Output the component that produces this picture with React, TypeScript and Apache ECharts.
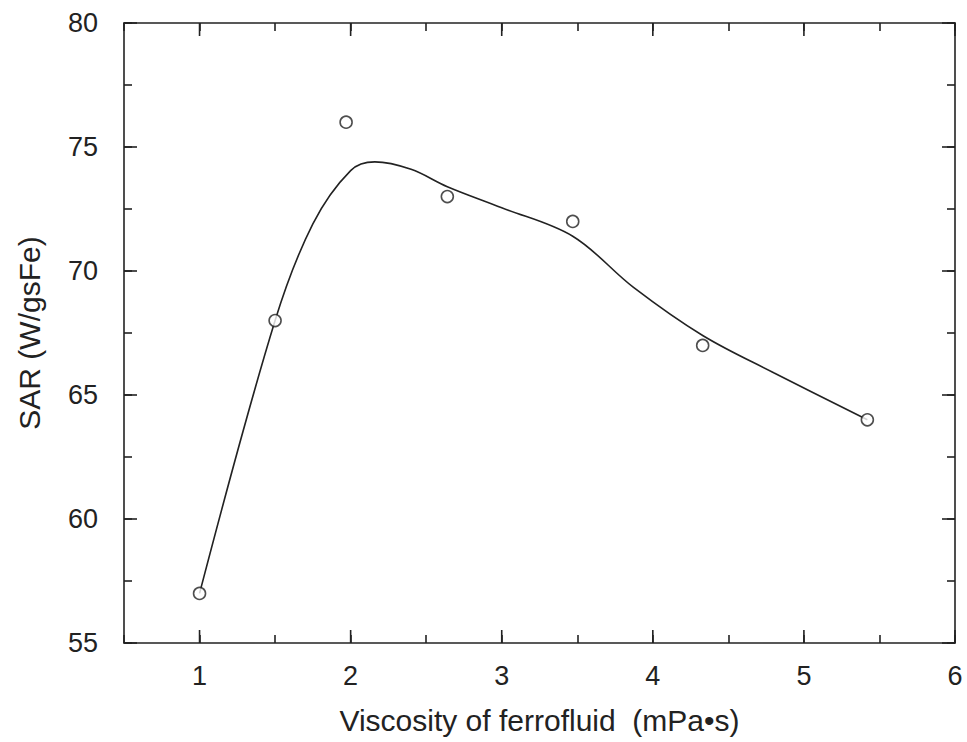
import React, { useEffect, useRef } from "react";
import * as echarts from "echarts";

// Measured points (viscosity mPa·s, SAR W/gsFe)
const pointX = [1.0, 1.5, 1.97, 2.64, 3.47, 4.33, 5.42];
const pointY = [57, 68, 76, 73, 72, 67, 64];

// Fitted curve
const curveX = [1.0, 1.5, 1.75, 2.0, 2.16, 2.4, 2.64, 3.0, 3.47, 3.87, 4.33, 4.8, 5.42];
const curveY = [57, 68, 71.9, 74.05, 74.4, 74.1, 73.4, 72.55, 71.4, 69.35, 67.4, 65.9, 64.0];

const xMajorTicks = [1, 2, 3, 4, 5, 6];
const yMajorTicks = [55, 60, 65, 70, 75, 80];

const X_MIN = 0.5, X_MAX = 6, Y_MIN = 55, Y_MAX = 80;
const INK = "#222";
const FONT = "Liberation Sans, Arial, sans-serif";
const MAJOR_LEN = 13;

export default function App() {
  const ref = useRef<HTMLDivElement>(null);
  useEffect(() => {
    if (!ref.current) return;
    const chart = echarts.init(ref.current, null, { renderer: "svg" });
    const axisCommon = {
      type: "value" as const,
      axisLine: { show: true, lineStyle: { color: INK, width: 1.6 } },
      axisTick: { show: true, inside: true, length: 8, lineStyle: { color: INK, width: 1.6 } },
      splitLine: { show: false },
    };
    const xMajor = xMajorTicks.map((v) => [v, Y_MIN]);
    const yMajor = yMajorTicks.map((v) => [X_MIN, v]);
    chart.setOption({
      animation: false,
      backgroundColor: "#fff",
      grid: { left: 124, right: 12, top: 23, bottom: 99, containLabel: false },
      xAxis: [
        {
          ...axisCommon,
          position: "bottom",
          min: X_MIN, max: X_MAX, interval: 0.5,
          name: "Viscosity of ferrofluid  (mPa\u2022s)",
          nameLocation: "middle",
          nameGap: 62,
          nameTextStyle: { fontFamily: FONT, fontSize: 30, color: INK },
          axisLabel: {
            show: true, margin: 19, fontFamily: FONT, fontSize: 27, color: INK,
            formatter: (v: number) => (Number.isInteger(v) ? String(v) : ""),
          },
        },
        {
          ...axisCommon,
          position: "top",
          min: X_MIN, max: X_MAX, interval: 0.5,
          axisLabel: { show: false },
        },
      ],
      yAxis: [
        {
          ...axisCommon,
          position: "left",
          min: Y_MIN, max: Y_MAX, interval: 2.5,
          name: "SAR (W/gsFe)",
          nameLocation: "middle",
          nameGap: 80,
          nameTextStyle: { fontFamily: FONT, fontSize: 30, color: INK },
          axisLabel: {
            show: true, margin: 26, fontFamily: FONT, fontSize: 27, color: INK,
            formatter: (v: number) => (v % 5 === 0 ? String(v) : ""),
          },
        },
        {
          ...axisCommon,
          position: "right",
          min: Y_MIN, max: Y_MAX, interval: 2.5,
          axisLabel: { show: false },
        },
      ],
      series: [
        {
          type: "line",
          data: curveX.map((x, i) => [x, curveY[i]]),
          smooth: 0.35,
          showSymbol: false,
          symbol: "none",
          lineStyle: { color: INK, width: 1.6 },
          z: 2,
        },
        {
          type: "scatter",
          data: pointX.map((x, i) => [x, pointY[i]]),
          symbol: "circle",
          symbolSize: 12,
          itemStyle: { color: "#fff", borderColor: INK, borderWidth: 1.6 },
          z: 3,
        },
        {
          type: "custom",
          clip: false,
          data: xMajor,
          encode: { x: 0, y: 1 },
          renderItem: (_p: any, api: any) => {
            const v = api.value(0);
            const b = api.coord([v, Y_MIN]);
            const t = api.coord([v, Y_MAX]);
            const style = { stroke: INK, lineWidth: 1.6 };
            return {
              type: "group",
              children: [
                { type: "line", shape: { x1: b[0], y1: b[1], x2: b[0], y2: b[1] - MAJOR_LEN }, style },
                { type: "line", shape: { x1: t[0], y1: t[1], x2: t[0], y2: t[1] + MAJOR_LEN }, style },
              ],
            };
          },
          z: 4,
        },
        {
          type: "custom",
          clip: false,
          data: yMajor,
          encode: { x: 0, y: 1 },
          renderItem: (_p: any, api: any) => {
            const v = api.value(1);
            const l = api.coord([X_MIN, v]);
            const r = api.coord([X_MAX, v]);
            const style = { stroke: INK, lineWidth: 1.6 };
            return {
              type: "group",
              children: [
                { type: "line", shape: { x1: l[0], y1: l[1], x2: l[0] + MAJOR_LEN, y2: l[1] }, style },
                { type: "line", shape: { x1: r[0], y1: r[1], x2: r[0] - MAJOR_LEN, y2: r[1] }, style },
              ],
            };
          },
          z: 4,
        },
      ],
    });
    return () => chart.dispose();
  }, []);
  return <div ref={ref} style={{ width: 967, height: 742, position: "absolute", left: 0, top: 0 }} />;
}
